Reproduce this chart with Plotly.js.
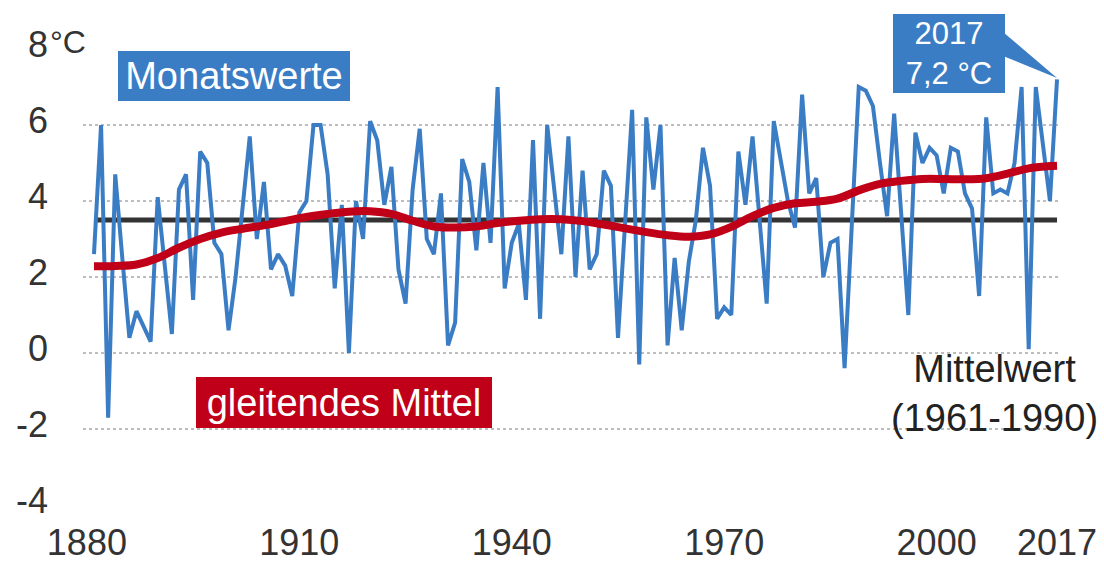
<!DOCTYPE html>
<html>
<head>
<meta charset="utf-8">
<script src="https://cdn.plot.ly/plotly-3.0.1.min.js"></script>
<style>html,body{margin:0;padding:0;background:#fff}#chart{width:1104px;height:566px}</style>
</head>
<body>
<div id="chart"></div>
<script>
// ---- data ----
const firstYear = 1881;
const monthlyValues = [
  // 1881-1890
  2.6, 6.0, -1.7, 4.7, 2.5, 0.4, 1.1, 0.7, 0.3, 4.1,
  // 1891-1900
  2.4, 0.5, 4.3, 4.7, 1.4, 5.3, 5.0, 2.9, 2.6, 0.6,
  // 1901-1910
  2.0, 3.8, 5.7, 3.0, 4.5, 2.2, 2.6, 2.3, 1.5, 3.7,
  // 1911-1920
  4.0, 6.0, 6.0, 4.7, 1.7, 3.9, 0.0, 4.0, 3.0, 6.1,
  // 1921-1930
  5.6, 3.9, 4.9, 2.2, 1.3, 4.3, 5.9, 3.0, 2.6, 4.2,
  // 1931-1940
  0.2, 0.8, 5.1, 4.5, 2.7, 5.0, 2.9, 7.0, 1.7, 2.9,
  // 1941-1950
  3.4, 1.4, 5.6, 0.9, 6.0, 4.3, 2.6, 5.7, 2.0, 4.8,
  // 1951-1960
  2.2, 2.6, 4.8, 4.4, 0.4, 3.4, 6.4, -0.3, 6.2, 4.3,
  // 1961-1970
  6.0, 0.2, 2.5, 0.6, 2.4, 3.5, 5.4, 4.4, 0.9, 1.2,
  // 1971-1980
  1.0, 5.3, 3.9, 5.7, 3.5, 1.3, 6.1, 5.0, 4.0, 3.3,
  // 1981-1990
  6.8, 4.2, 4.6, 2.0, 2.9, 3.0, -0.4, 3.3, 7.0, 6.9,
  // 1991-2000
  6.5, 5.0, 3.6, 6.3, 3.6, 1.0, 5.8, 5.0, 5.4, 5.2,
  // 2001-2010
  4.2, 5.4, 5.3, 4.2, 3.8, 1.5, 6.2, 4.2, 4.3, 4.2,
  // 2011-2017
  5.0, 7.0, 0.1, 7.0, 5.5, 4.0, 7.2
];
const years = monthlyValues.map((_, i) => firstYear + i);

const smoothYears = [1881, 1884, 1887, 1890, 1893, 1896, 1899, 1902, 1905, 1908,
  1911, 1914, 1917, 1920, 1923, 1926, 1929, 1932, 1935, 1938, 1941, 1944, 1947,
  1950, 1953, 1956, 1959, 1962, 1965, 1968, 1971, 1974, 1977, 1980, 1983, 1986,
  1989, 1992, 1995, 1998, 2001, 2004, 2007, 2010, 2013, 2016, 2017];
const smoothValues = [2.28, 2.29, 2.33, 2.5, 2.77, 3.0, 3.17, 3.27, 3.36, 3.47,
  3.58, 3.66, 3.72, 3.73, 3.66, 3.48, 3.33, 3.3, 3.33, 3.42, 3.48, 3.52, 3.52,
  3.47, 3.38, 3.28, 3.18, 3.1, 3.06, 3.12, 3.32, 3.6, 3.82, 3.94, 3.98, 4.06,
  4.28, 4.45, 4.53, 4.58, 4.58, 4.57, 4.6, 4.72, 4.86, 4.92, 4.93];

const meanYears = [1881, 2017];
const meanValue = 3.5;

const xTickVals = [1880, 1910, 1940, 1970, 2000, 2017];
const xTickText = ['1880', '1910', '1940', '1970', '2000', '2017'];
const yTickVals = [-4, -2, 0, 2, 4, 6, 8];
const yTickText = ['-4', '-2', '0', '2', '4', '6', '8'];

// ---- layout helpers ----
const W = 1104, H = 566;
const M = {l: 83, r: 44, t: 49, b: 61};
const PW = W - M.l - M.r, PH = H - M.t - M.b;
const px = v => (v - M.l) / PW;
const py = v => (H - M.b - v) / PH;

const BLUE = '#3b7dc4', RED = '#c00018', DARK = '#333333';
const FONT = 'Liberation Sans, Arial, sans-serif';

const traces = [
  {x: meanYears, y: meanYears.map(() => meanValue), mode: 'lines',
   line: {color: DARK, width: 5}, hoverinfo: 'skip'},
  {x: years, y: monthlyValues, mode: 'lines',
   line: {color: BLUE, width: 4}},
  {x: smoothYears, y: smoothValues, mode: 'lines',
   line: {color: RED, width: 8, shape: 'spline', smoothing: 1}}
];

const layout = {
  width: W, height: H,
  margin: M,
  paper_bgcolor: '#fff', plot_bgcolor: '#fff',
  showlegend: false,
  font: {family: FONT, color: DARK},
  xaxis: {
    range: [1879.45, 2017.42],
    tickvals: xTickVals, ticktext: xTickText,
    showgrid: false, zeroline: false, showline: false, ticks: '',
    tickfont: {size: 36, color: DARK},
    ticklabelstandoff: 13
  },
  yaxis: {
    range: [-4, 8],
    tickvals: yTickVals, ticktext: yTickText,
    showgrid: true, gridcolor: '#bdbdbd', gridwidth: 1.5, griddash: 'dot',
    zeroline: false, showline: false, ticks: '',
    tickfont: {size: 36, color: DARK},
    ticklabelstandoff: 34,
    ticklabelshift: -5
  },
  shapes: [
    {type: 'path', xref: 'paper', yref: 'paper',
     path: `M ${px(1003)} ${py(32)} L ${px(1057)} ${py(78)} L ${px(1003)} ${py(56)} Z`,
     fillcolor: BLUE, line: {width: 0}}
  ],
  annotations: [
    {xref: 'paper', yref: 'paper', x: px(234), y: py(76), xanchor: 'center', yanchor: 'middle',
     text: 'Monatswerte', showarrow: false, bgcolor: BLUE, width: 232, height: 50,
     borderpad: 0, borderwidth: 0, font: {size: 38, color: '#ffffff', family: FONT}},
    {xref: 'paper', yref: 'paper', x: px(344), y: py(402), xanchor: 'center', yanchor: 'middle',
     text: 'gleitendes Mittel', showarrow: false, bgcolor: RED, width: 296, height: 51,
     borderpad: 0, borderwidth: 0, font: {size: 38, color: '#ffffff', family: FONT}},
    {xref: 'paper', yref: 'paper', x: px(949), y: py(53.5), xanchor: 'center', yanchor: 'middle',
     text: '2017<br>7,2 °C', showarrow: false, bgcolor: BLUE, width: 112, height: 79,
     borderpad: 0, borderwidth: 0, font: {size: 31, color: '#ffffff', family: FONT}},
    {xref: 'paper', yref: 'paper', x: px(994), y: py(393), xanchor: 'center', yanchor: 'middle',
     text: 'Mittelwert<br>(1961-1990)', showarrow: false,
     font: {size: 38, color: '#222222', family: FONT}},
    {xref: 'paper', yref: 'paper', x: px(48), y: py(42), xanchor: 'left', yanchor: 'middle',
     text: '°C', showarrow: false, font: {size: 32, color: DARK, family: FONT}}
  ]
};

Plotly.newPlot('chart', traces, layout, {displayModeBar: false, staticPlot: true});
</script>
</body>
</html>
